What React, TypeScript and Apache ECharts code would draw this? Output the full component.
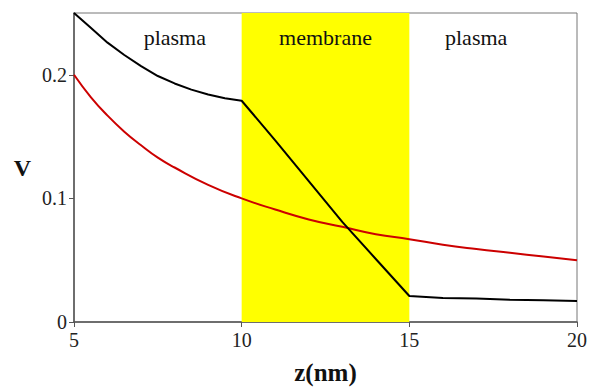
import React, { useEffect, useRef } from 'react';
import * as echarts from 'echarts';

// Black curve (potential with membrane)
const zBlack = [5, 5.5, 6, 6.5, 7, 7.5, 8, 8.5, 9, 9.5, 10, 11, 12, 13, 14, 15, 16, 17, 18, 19, 20];
const vBlack = [0.25, 0.238, 0.226, 0.216, 0.207, 0.199, 0.193, 0.188, 0.184, 0.181, 0.179, 0.147, 0.114, 0.081, 0.051, 0.021, 0.0195, 0.019, 0.018, 0.0175, 0.017];

// Red curve (no membrane)
const zRed = [5, 5.5, 6, 6.5, 7, 7.5, 8, 9, 10, 11, 12, 13, 14, 15, 16, 17, 18, 19, 20];
const vRed = [0.2, 0.182, 0.167, 0.154, 0.143, 0.133, 0.125, 0.111, 0.1, 0.091, 0.083, 0.077, 0.071, 0.067, 0.0625, 0.059, 0.056, 0.053, 0.05];

// Tick values
const xTicks = [5, 10, 15, 20];
const yTicks = [0, 0.1, 0.2];

// Regions
const regionNames = ['plasma', 'membrane', 'plasma'];
const regionBounds = [5, 10, 15, 20];
const regionColors = ['rgba(0,0,0,0)', '#ffff00', 'rgba(0,0,0,0)'];
const regionLabelOffsets = [17, 0, -17];

const FONT = "'Liberation Serif', 'Times New Roman', serif";

export default function App() {
  const ref = useRef<HTMLDivElement>(null);
  useEffect(() => {
    if (!ref.current) return;
    const chart = echarts.init(ref.current, undefined, { renderer: 'svg' });
    const areas = regionNames.map((name, i) => [
      {
        xAxis: regionBounds[i],
        name,
        itemStyle: { color: regionColors[i] },
        label: { offset: [regionLabelOffsets[i], 0] },
      },
      { xAxis: regionBounds[i + 1] },
    ]);
    chart.setOption({
      animation: false,
      backgroundColor: '#ffffff',
      textStyle: { fontFamily: FONT },
      grid: {
        left: 74,
        right: 12,
        top: 13,
        bottom: 63,
        show: true,
        borderColor: '#777',
        borderWidth: 1,
        backgroundColor: 'transparent',
      },
      xAxis: {
        type: 'value',
        min: 5,
        max: 20,
        interval: 5,
        name: 'z(nm)',
        nameLocation: 'middle',
        nameGap: 38,
        nameTextStyle: { fontFamily: FONT, fontWeight: 'bold', fontSize: 25, color: '#111' },
        axisLine: { lineStyle: { color: '#555', width: 1.5 } },
        axisTick: { show: true, length: 5, lineStyle: { color: '#555' }, customValues: xTicks },
        axisLabel: { fontFamily: FONT, fontSize: 20, color: '#222', margin: 8, customValues: xTicks },
        splitLine: { show: false },
      },
      yAxis: {
        type: 'value',
        min: 0,
        max: 0.25,
        interval: 0.1,
        name: 'V',
        nameLocation: 'middle',
        nameRotate: 0,
        nameGap: 43,
        nameTextStyle: { fontFamily: FONT, fontWeight: 'bold', fontSize: 24, color: '#111', padding: [8, 0, 0, 0] },
        axisLine: { show: true, lineStyle: { color: '#555', width: 1.5 } },
        axisTick: { show: true, length: 5, lineStyle: { color: '#555' }, customValues: yTicks },
        axisLabel: { fontFamily: FONT, fontSize: 20, color: '#222', margin: 7, customValues: yTicks },
        splitLine: { show: false },
      },
      series: [
        {
          type: 'line',
          data: [],
          z: 1,
          silent: true,
          markArea: {
            silent: true,
            label: {
              show: true,
              position: 'insideTop',
              distance: 13,
              fontFamily: FONT,
              fontSize: 22,
              color: '#111',
            },
            data: areas,
          },
        },
        {
          type: 'line',
          z: 3,
          data: zRed.map((z, i) => [z, vRed[i]]),
          smooth: true,
          showSymbol: false,
          lineStyle: { color: '#cc0000', width: 2 },
        },
        {
          type: 'line',
          z: 4,
          data: zBlack.map((z, i) => [z, vBlack[i]]),
          showSymbol: false,
          lineStyle: { color: '#000000', width: 2 },
        },
      ],
    });
    return () => chart.dispose();
  }, []);
  return (
    <div
      ref={ref}
      style={{ position: 'fixed', left: 0, top: 0, width: 590, height: 390, background: '#fff' }}
    />
  );
}
